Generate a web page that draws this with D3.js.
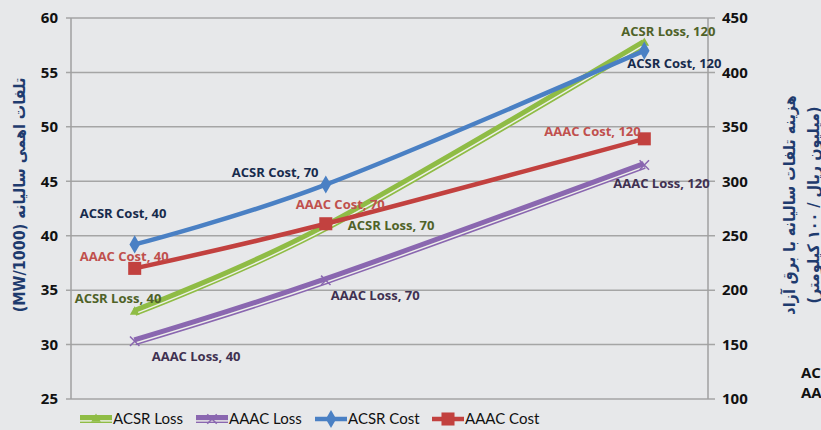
<!DOCTYPE html>
<html>
<head>
<meta charset="utf-8">
<script src="https://cdn.jsdelivr.net/npm/d3@7/dist/d3.min.js"></script>
<style>
  body { margin: 0; background: #e7e8ea; overflow: hidden; }
  svg { display: block; }
</style>
</head>
<body>
<div id="chart"></div>
<script>
// conductor lengths on the x axis
var lengths = [40, 70, 120];
// left axis: loss, right axis: cost
var acsrLoss = [33.0, 40.8, 57.7];
var aaacLoss = [30.3, 35.9, 46.5];
var acsrCost = [242, 297, 420];
var aaacCost = [220, 261, 339];
var lossTicks = [25, 30, 35, 40, 45, 50, 55, 60];
var costTicks = [100, 150, 200, 250, 300, 350, 400, 450];
var seriesNames = ["ACSR Loss", "AAAC Loss", "ACSR Cost", "AAAC Cost"];

var W = 821, H = 430;
var margin = {top: 18, right: 113, bottom: 31, left: 71};

var svg = d3.select("#chart").append("svg").attr("width", W).attr("height", H);

var x = d3.scaleLinear().domain([30, 130]).range([margin.left, W - margin.right]);
var yL = d3.scaleLinear().domain([25, 60]).range([H - margin.bottom, margin.top]);
var yR = d3.scaleLinear().domain([100, 450]).range([H - margin.bottom, margin.top]);

// gridlines
svg.append("g").selectAll("line").data(lossTicks).enter().append("line")
  .attr("x1", margin.left - 5).attr("x2", W - margin.right + 7)
  .attr("y1", function(d) { return yL(d); }).attr("y2", function(d) { return yL(d); })
  .attr("stroke", "#a5a5a5").attr("stroke-width", 1.5);

// axis lines
svg.append("line").attr("x1", margin.left).attr("x2", margin.left)
  .attr("y1", margin.top).attr("y2", H - margin.bottom).attr("stroke", "#a0a0a0").attr("stroke-width", 1.5);
svg.append("line").attr("x1", W - margin.right).attr("x2", W - margin.right)
  .attr("y1", margin.top).attr("y2", H - margin.bottom).attr("stroke", "#a0a0a0").attr("stroke-width", 1.5);

var tickFont = "bold 15px 'Open Sans', sans-serif";
svg.append("g").selectAll("text").data(lossTicks).enter().append("text")
  .attr("x", margin.left - 13).attr("y", function(d) { return yL(d); }).attr("dy", "0.35em")
  .attr("text-anchor", "end").style("font", tickFont).attr("fill", "#111")
  .text(function(d) { return d; });
svg.append("g").selectAll("text").data(costTicks).enter().append("text")
  .attr("x", W - margin.right + 14).attr("y", function(d) { return yR(d); }).attr("dy", "0.35em")
  .attr("text-anchor", "start").style("font", tickFont).attr("fill", "#111")
  .text(function(d) { return d; });

// axis titles
var titleCol = "#1f3b6e";
var titleFont = "bold 16px 'DejaVu Sans Condensed', 'DejaVu Sans', sans-serif";
svg.append("text")
  .attr("transform", "translate(25,195) rotate(-90)")
  .attr("text-anchor", "middle").attr("direction", "rtl")
  .style("font", titleFont).attr("fill", titleCol)
  .text("تلفات اهمی سالیانه (MW/1000)");
var rt = svg.append("text")
  .attr("transform", "translate(795,205) rotate(-90)")
  .attr("text-anchor", "middle").attr("direction", "rtl")
  .style("font", titleFont).attr("fill", titleCol);
rt.append("tspan").attr("x", 0).attr("y", 0).text("هزینه تلفات سالیانه با برق آزاد");
rt.append("tspan").attr("x", 0).attr("y", 24).text("(میلیون ریال / ۱۰۰ کیلومتر)");

// cut-off text at the far right
svg.append("text").attr("x", 801).attr("y", 378).style("font", "bold 15px 'Open Sans', sans-serif").attr("fill", "#111").text("ACSR");
svg.append("text").attr("x", 801).attr("y", 398).style("font", "bold 15px 'Open Sans', sans-serif").attr("fill", "#111").text("AAAC");

var series = [
  {name: seriesNames[0], vals: acsrLoss, y: yL, color: "#8fbc45", lab: "#4f6228", marker: "triangle", dbl: true,
   off: [[-60, -9], [22, 3], [-23, -7]]},
  {name: seriesNames[1], vals: aaacLoss, y: yL, color: "#8a67b0", lab: "#3f3151", marker: "x", dbl: true,
   off: [[17, 20], [5, 20], [-31, 23]]},
  {name: seriesNames[2], vals: acsrCost, y: yR, color: "#4a80c4", lab: "#172b4d", marker: "diamond", dbl: false,
   off: [[-55, -26], [-94, -8], [-17, 17]]},
  {name: seriesNames[3], vals: aaacCost, y: yR, color: "#c2413f", lab: "#c0504d", marker: "square", dbl: false,
   off: [[-55, -7], [-30, -15], [-100, -3]]}
];

var line = d3.line().curve(d3.curveCardinal.tension(0));

function drawLine(g, pts, s) {
  if (s.dbl) {
    g.append("path").attr("d", line(pts)).attr("fill", "none").attr("stroke", s.color).attr("stroke-width", 8);
    g.append("path").attr("d", line(pts)).attr("transform", "translate(0,1.9)")
      .attr("fill", "none").attr("stroke", "#eef0ea").attr("stroke-width", 1.4);
  } else {
    g.append("path").attr("d", line(pts)).attr("fill", "none").attr("stroke", s.color).attr("stroke-width", 4.5);
  }
}

function drawMarker(g, px, py, s) {
  var sym;
  if (s.marker == "diamond") sym = d3.symbol(d3.symbolDiamond, 95);
  else if (s.marker == "square") sym = d3.symbol(d3.symbolSquare, 170);
  else if (s.marker == "triangle") sym = d3.symbol(d3.symbolTriangle, 40);
  else sym = d3.symbol(d3.symbolX, 60);
  var m = g.append("path").attr("d", sym()).attr("transform", "translate(" + px + "," + py + ")");
  if (s.marker == "x") m.attr("fill", "none").attr("stroke", s.color).attr("stroke-width", 1.5);
  else m.attr("fill", s.color);
}

series.forEach(function(s) {
  var g = svg.append("g").attr("class", "serie");
  var pts = lengths.map(function(l, i) { return [x(l), s.y(s.vals[i])]; });
  drawLine(g, pts, s);
  pts.forEach(function(p) { drawMarker(g, p[0], p[1], s); });
});

// data labels on top
series.forEach(function(s) {
  svg.append("g").selectAll("text").data(lengths).enter().append("text")
    .attr("x", function(d, i) { return x(d) + s.off[i][0]; })
    .attr("y", function(d, i) { return s.y(s.vals[i]) + s.off[i][1]; })
    .style("font", "bold 13px 'Open Sans', sans-serif").attr("fill", s.lab)
    .text(function(d) { return s.name + ", " + d; });
});

// legend
var legX = [80, 196, 315, 432];
var leg = svg.append("g").attr("transform", "translate(0,419)");
series.forEach(function(s, i) {
  var g = leg.append("g").attr("transform", "translate(" + legX[i] + ",0)");
  drawLine(g, [[0, 0], [32, 0]], s);
  drawMarker(g, 16, 0, s);
  g.append("text").attr("x", 33).attr("y", 0).attr("dy", "0.35em")
    .style("font", "15px Lato, 'Open Sans', sans-serif").attr("fill", "#111").text(s.name);
});
</script>
</body>
</html>
